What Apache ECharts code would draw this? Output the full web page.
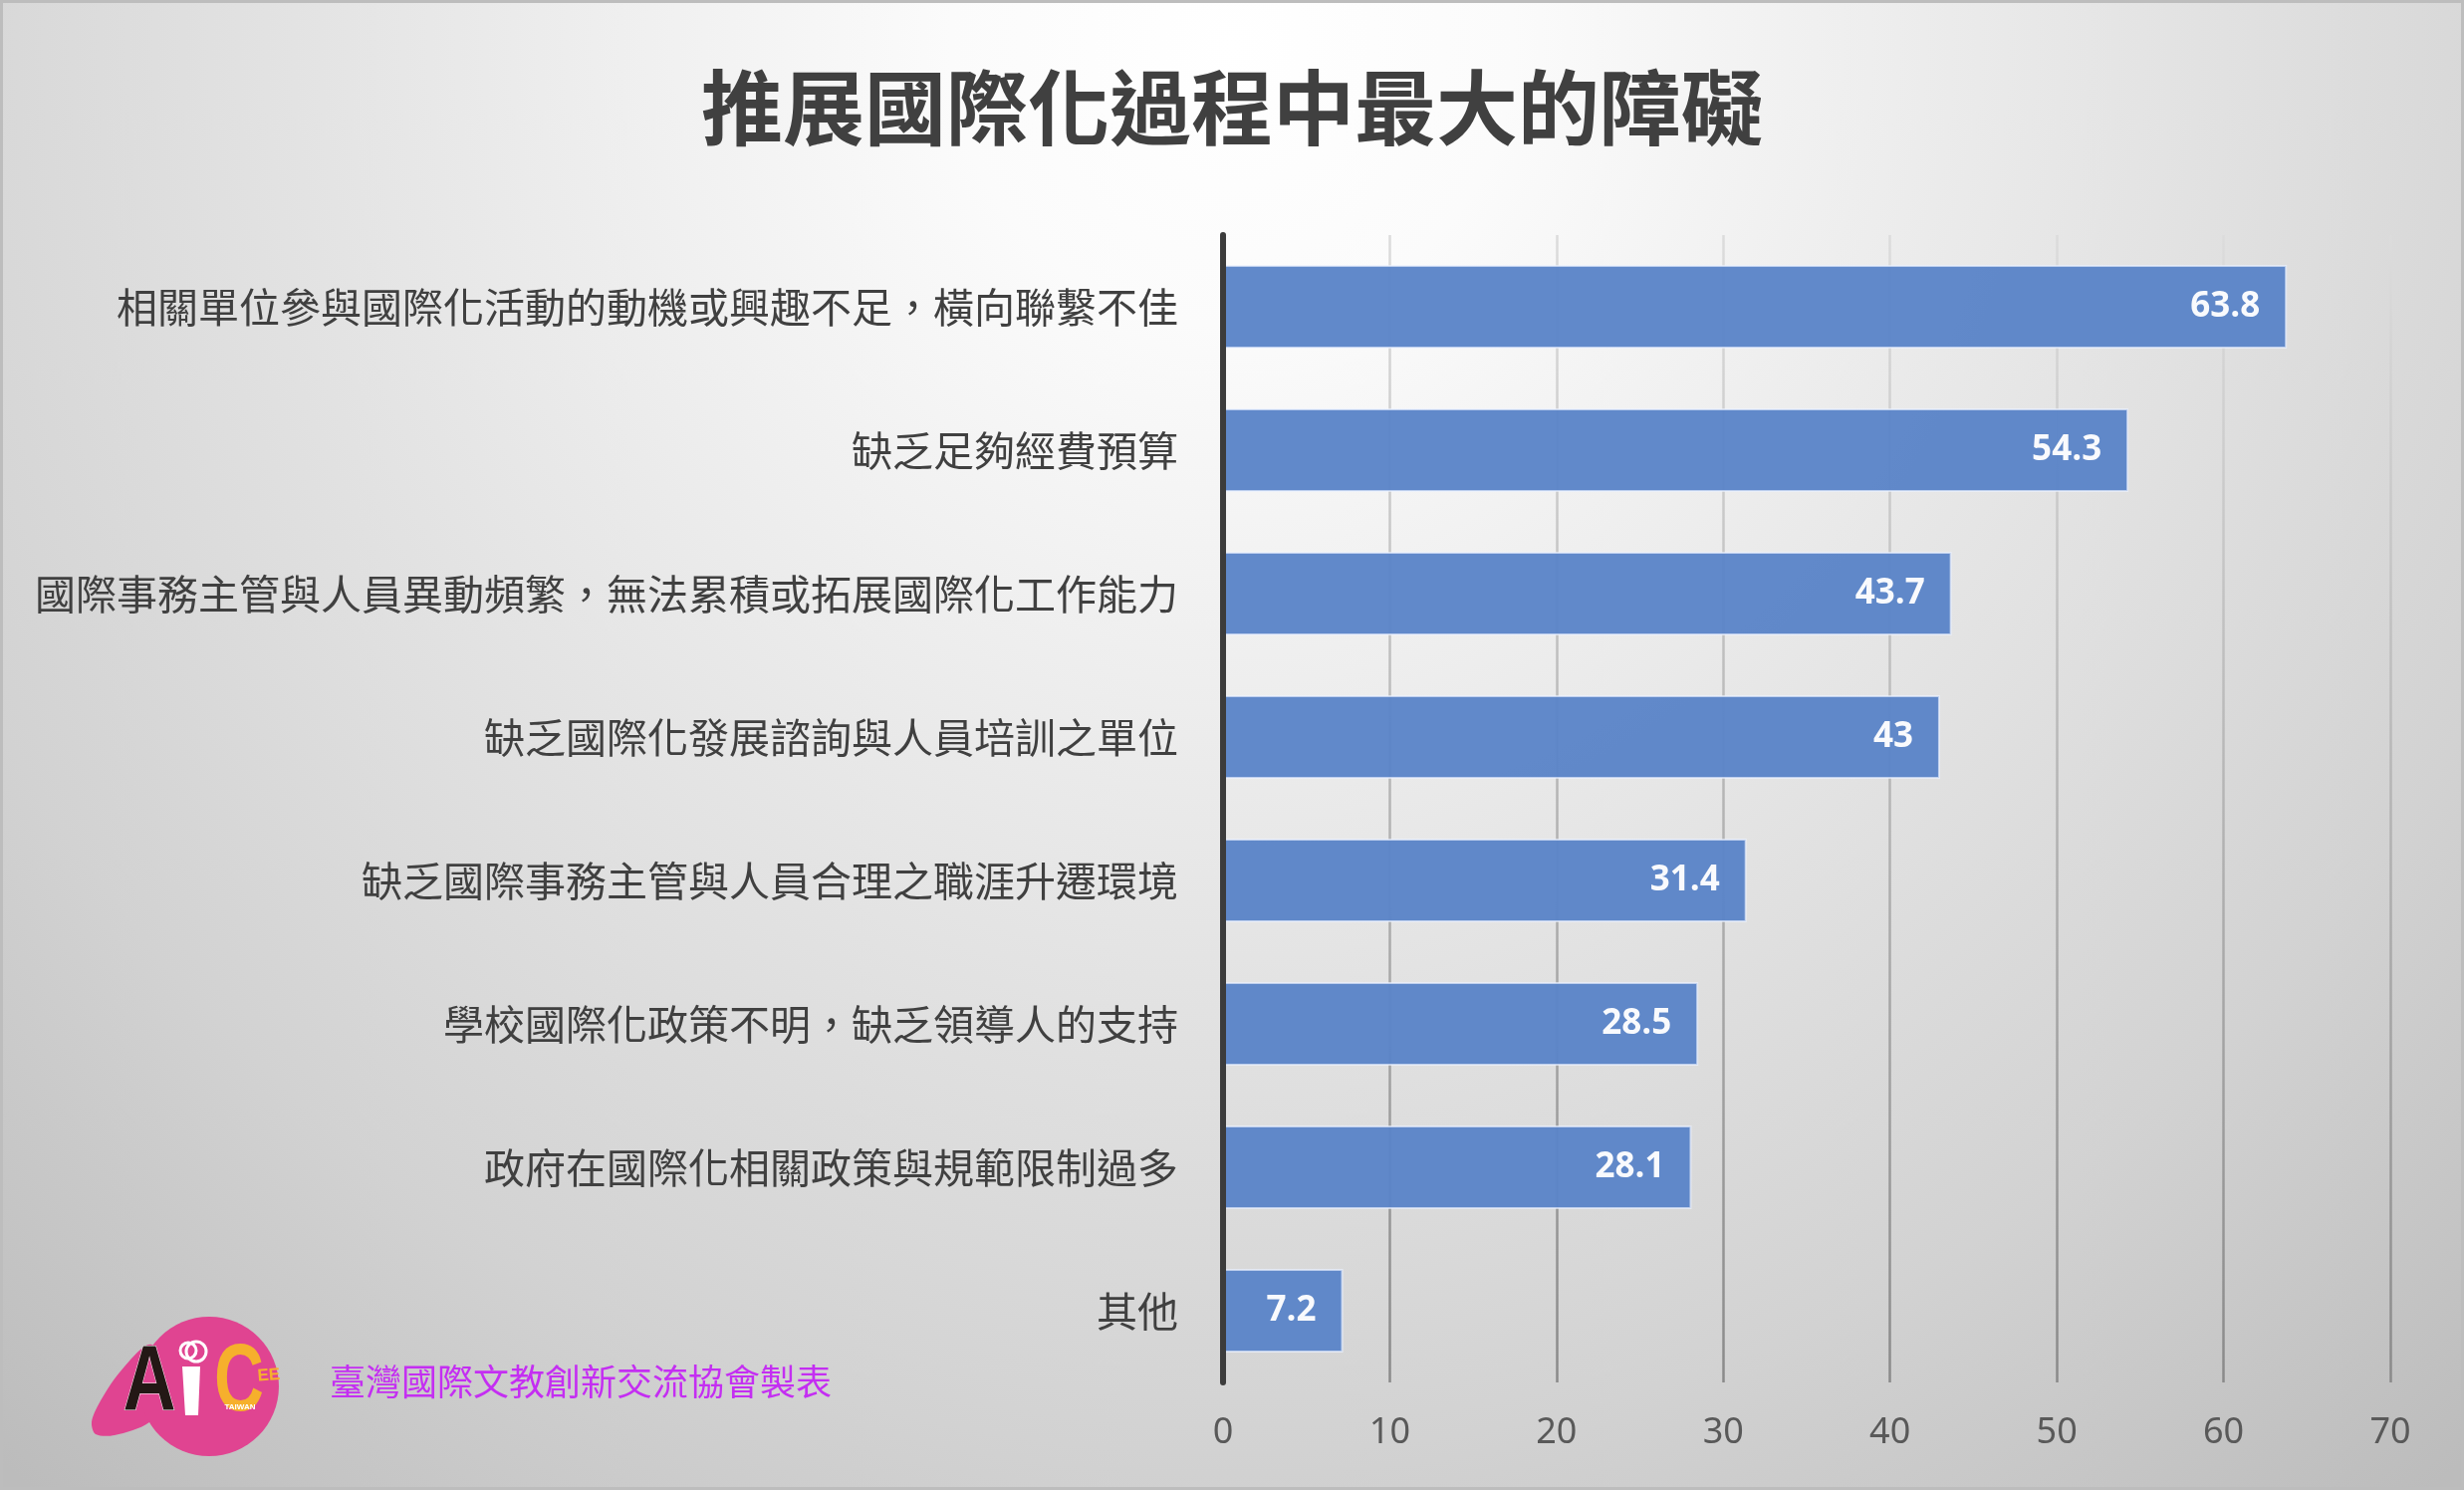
<!DOCTYPE html>
<html>
<head>
<meta charset="utf-8">
<title>推展國際化過程中最大的障礙</title>
<script src="https://cdn.jsdelivr.net/npm/echarts@6/dist/echarts.min.js"></script>
<style>
    html, body { margin: 0; padding: 0; }
    #chart { width: 2474px; height: 1496px; }
</style>
</head>
<body>
<div id="chart"></div>
<script>
// data
const categories = [
    '相關單位參與國際化活動的動機或興趣不足，橫向聯繫不佳',
    '缺乏足夠經費預算',
    '國際事務主管與人員異動頻繁，無法累積或拓展國際化工作能力',
    '缺乏國際化發展諮詢與人員培訓之單位',
    '缺乏國際事務主管與人員合理之職涯升遷環境',
    '學校國際化政策不明，缺乏領導人的支持',
    '政府在國際化相關政策與規範限制過多',
    '其他'
];
const values = [63.8, 54.3, 43.7, 43, 31.4, 28.5, 28.1, 7.2];
const tickValues = [0, 10, 20, 30, 40, 50, 60, 70];

const titleText = '推展國際化過程中最大的障礙';
const footerText = '臺灣國際文教創新交流協會製表';

const cjk = '"Noto Sans CJK TC", "Noto Sans CJK SC", sans-serif';

var myChart = echarts.init(document.getElementById('chart'));

myChart.setOption({
    backgroundColor: {
        type: 'radial',
        x: 0.5,
        y: 0.03,
        r: 1.26,
        colorStops: [
            { offset: 0, color: '#ffffff' },
            { offset: 0.15, color: '#fbfbfb' },
            { offset: 0.5, color: '#e3e3e3' },
            { offset: 0.75, color: '#d2d2d2' },
            { offset: 1, color: '#bcbcbc' }
        ]
    },
    animation: false,
    title: {
        text: titleText,
        left: 'center',
        top: 62,
        textStyle: {
            fontFamily: cjk,
            fontSize: 82,
            fontWeight: 'bold',
            color: '#404040'
        }
    },
    grid: {
        left: 1228,
        right: 74,
        top: 236,
        bottom: 108
    },
    xAxis: {
        type: 'value',
        min: tickValues[0],
        max: tickValues[tickValues.length - 1],
        interval: tickValues[1] - tickValues[0],
        axisLine: { show: false },
        axisTick: { show: false },
        axisLabel: {
            margin: 33,
            fontSize: 36,
            color: '#595959',
            fontFamily: '"Noto Sans", sans-serif'
        },
        splitLine: {
            show: true,
            lineStyle: {
                width: 2.5,
                color: {
                    type: 'linear',
                    x: 0, y: 236, x2: 0, y2: 1388,
                    global: true,
                    colorStops: [
                        { offset: 0, color: '#dcdcdc' },
                        { offset: 0.5, color: '#b4b4b4' },
                        { offset: 1, color: '#8a8a8a' }
                    ]
                }
            }
        }
    },
    yAxis: {
        type: 'category',
        data: categories,
        inverse: true,
        axisLine: {
            show: true,
            lineStyle: { color: '#3c3c3c', width: 6 }
        },
        axisTick: { show: false },
        axisLabel: {
            margin: 45,
            fontSize: 41,
            color: '#404040',
            fontFamily: cjk
        },
        z: 5
    },
    series: [
        {
            type: 'bar',
            data: values,
            barWidth: 84,
            itemStyle: {
                color: '#5b84c8',
                opacity: 0.96,
                borderColor: 'rgba(235, 242, 255, 0.7)',
                borderWidth: 2
            },
            label: {
                show: true,
                position: 'insideRight',
                distance: 27,
                color: '#ffffff',
                fontSize: 35,
                fontWeight: 'bold',
                fontFamily: '"Open Sans", sans-serif'
            }
        }
    ],
    graphic: [
        {
            // picture frame
            type: 'rect',
            shape: { x: 1.5, y: 1.5, width: 2471, height: 1493 },
            style: { fill: 'none', stroke: '#bdbdbd', lineWidth: 3 },
            silent: true
        },
        {
            // AiCEE logo
            type: 'group',
            silent: true,
            children: [
                {
                    type: 'polygon',
                    shape: {
                        points: [[152, 1350], [120, 1378], [99, 1410], [92, 1428], [96, 1440], [115, 1441], [150, 1428], [175, 1395]],
                        smooth: 0.3
                    },
                    style: { fill: '#e04491' }
                },
                {
                    type: 'circle',
                    shape: { cx: 210, cy: 1392, r: 70 },
                    style: { fill: '#e04491' }
                },
                {
                    type: 'text',
                    x: 150, y: 1390,
                    scaleX: 0.8,
                    style: {
                        text: 'A',
                        fill: '#231815',
                        stroke: '#ffffff',
                        lineWidth: 1,
                        font: 'bold 92px "Liberation Sans", sans-serif',
                        align: 'center',
                        verticalAlign: 'middle'
                    }
                },
                {
                    type: 'polygon',
                    shape: { points: [[183, 1372], [201, 1372], [199, 1421], [186, 1421]] },
                    style: { fill: '#ffffff' }
                },
                {
                    type: 'circle',
                    shape: { cx: 189, cy: 1356, r: 8 },
                    style: { fill: 'none', stroke: '#ffffff', lineWidth: 3 }
                },
                {
                    type: 'circle',
                    shape: { cx: 197, cy: 1357, r: 10 },
                    style: { fill: 'none', stroke: '#ffffff', lineWidth: 3 }
                },
                {
                    type: 'text',
                    x: 240, y: 1390,
                    scaleX: 0.72,
                    style: {
                        text: 'C',
                        fill: '#f6b02c',
                        font: 'bold 96px "Liberation Sans", sans-serif',
                        align: 'center',
                        verticalAlign: 'middle'
                    }
                },
                {
                    type: 'text',
                    x: 270, y: 1381,
                    rotation: 0.08,
                    style: {
                        text: 'EE',
                        fill: '#f6b02c',
                        font: 'bold 17px "Liberation Sans", sans-serif',
                        align: 'center',
                        verticalAlign: 'middle'
                    }
                },
                {
                    type: 'text',
                    x: 241, y: 1413,
                    style: {
                        text: 'TAIWAN',
                        fill: '#ffffff',
                        font: 'bold 8px "Liberation Sans", sans-serif',
                        align: 'center',
                        verticalAlign: 'middle'
                    }
                }
            ]
        },
        {
            type: 'text',
            x: 331, y: 1387,
            silent: true,
            style: {
                text: footerText,
                fill: '#c42ef2',
                font: '36px ' + cjk,
                align: 'left',
                verticalAlign: 'middle'
            }
        }
    ]
});
</script>
</body>
</html>
